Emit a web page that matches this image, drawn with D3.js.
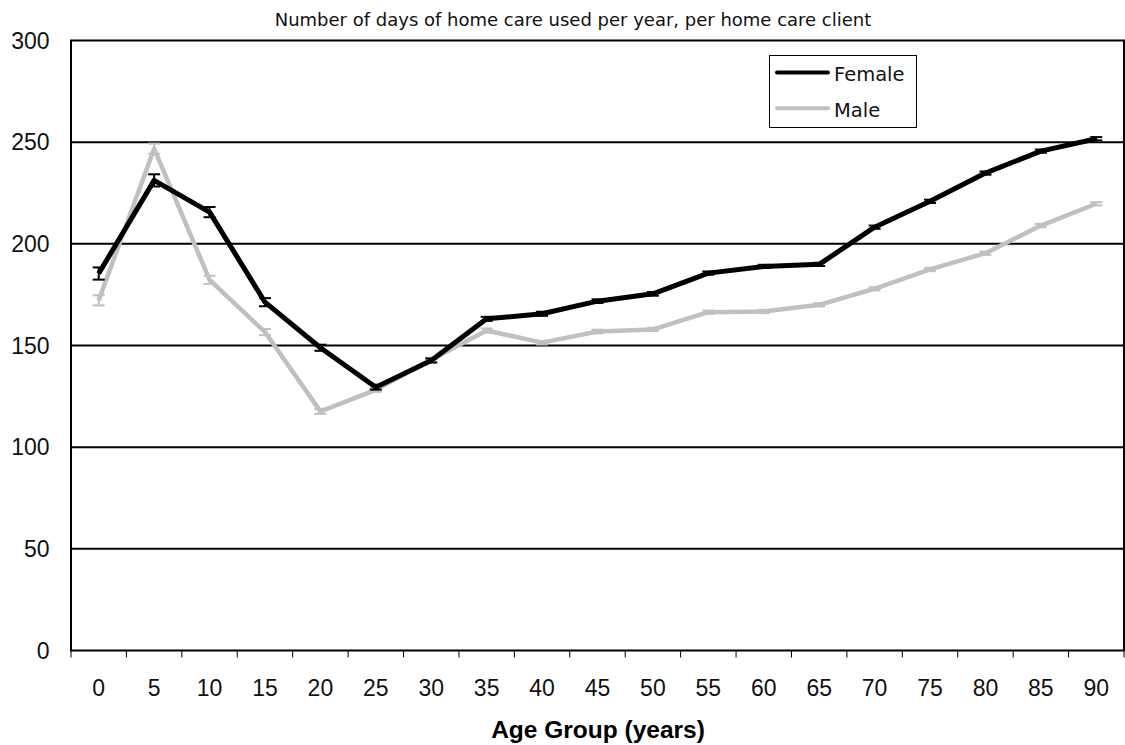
<!DOCTYPE html>
<html><head><meta charset="utf-8">
<script src="https://cdn.jsdelivr.net/npm/d3@7"></script>
<style>body{margin:0;background:#fff;} text{font-family:"Liberation Sans",Arial,sans-serif;}</style>
</head><body>
<svg id="c" width="1125" height="745"></svg>
<script>
const categories = ["0","5","10","15","20","25","30","35","40","45","50","55","60","65","70","75","80","85","90"];
const female = [185.4,231.2,215.6,171.3,148.9,129.5,142.6,163.1,165.6,171.8,175.4,185.6,188.9,189.9,208.2,220.9,234.8,245.6,251.7];
const femaleErr = [3,3,2.5,2,1.5,1.2,1,1,1,0.9,0.9,0.8,0.8,0.8,0.8,0.8,0.8,0.8,0.8];
const male = [172.2,246.8,182.3,156.6,117.6,128.2,143,157.4,151.4,156.9,157.9,166.4,166.7,170.0,177.9,187.4,195.4,209,219.7];
const maleErr = [2.5,2.5,2,1.5,1.2,1,1,1,0.9,0.9,0.8,0.8,0.8,0.8,0.8,0.8,0.8,0.8,0.8];
const yTicks = [0,50,100,150,200,250,300];
const title = "Number of days of home care used per year, per home care client";
const xTitle = "Age Group (years)";

const svg = d3.select("#c");
const L=71, R=1124, T=40.5, B=650.5;
const x = d3.scaleBand().domain(categories).range([L,R]).padding(0);
const y = d3.scaleLinear().domain([0,300]).range([B,T]);
const cx = d => x(d)+x.bandwidth()/2;

// gridlines
svg.append("g").selectAll("line").data(yTicks.filter(v=>v>0&&v<300)).join("line")
  .attr("x1",L).attr("x2",R).attr("y1",d=>y(d)).attr("y2",d=>y(d))
  .attr("stroke","#000").attr("stroke-width",2);
// frame
svg.append("rect").attr("x",L).attr("y",T).attr("width",R-L).attr("height",B-T)
  .attr("fill","none").attr("stroke","#000").attr("stroke-width",2);
// x ticks at band boundaries
const bounds = categories.map(c=>x(c)).concat([R]);
svg.append("g").selectAll("line").data(bounds).join("line")
  .attr("x1",d=>d).attr("x2",d=>d).attr("y1",B).attr("y2",B+7)
  .attr("stroke","#000").attr("stroke-width",1);
// x labels
svg.append("g").selectAll("text").data(categories).join("text")
  .attr("x",d=>cx(d)).attr("y",696).attr("text-anchor","middle")
  .attr("font-size",23).attr("fill","#111").text(d=>d);
// y labels
svg.append("g").selectAll("text").data(yTicks).join("text")
  .attr("x",49.5).attr("y",d=>y(d)+8).attr("text-anchor","end")
  .attr("font-size",23).attr("fill","#111").text(d=>d);
// titles
svg.append("text").attr("x",573).attr("y",26).attr("text-anchor","middle")
  .attr("font-size",18).attr("fill","#111").style("font-family","'DejaVu Sans',sans-serif").text(title);
svg.append("text").attr("x",598).attr("y",738).attr("text-anchor","middle")
  .attr("font-size",24.5).attr("font-weight","bold").text(xTitle);

function series(vals, errs, color, w){
  const g = svg.append("g");
  const line = d3.line().x((d,i)=>cx(categories[i])).y(d=>y(d));
  g.append("path").datum(vals).attr("d",line).attr("fill","none")
    .attr("stroke",color).attr("stroke-width",w).attr("stroke-linejoin","round");
  const eb = g.selectAll("g.eb").data(vals).join("g");
  eb.append("line").attr("x1",(d,i)=>cx(categories[i])).attr("x2",(d,i)=>cx(categories[i]))
    .attr("y1",(d,i)=>y(d+errs[i])).attr("y2",(d,i)=>y(d-errs[i])).attr("stroke",color).attr("stroke-width",2);
  [1,-1].forEach(s=>{
    eb.append("line").attr("x1",(d,i)=>cx(categories[i])-6).attr("x2",(d,i)=>cx(categories[i])+6)
      .attr("y1",(d,i)=>y(d+s*errs[i])).attr("y2",(d,i)=>y(d+s*errs[i])).attr("stroke",color).attr("stroke-width",2);
  });
}
series(male, maleErr, "#c0c0c0", 4.5);
series(female, femaleErr, "#000", 5);

// legend
const lg = svg.append("g");
lg.append("rect").attr("x",769.5).attr("y",55.5).attr("width",147).attr("height",72)
  .attr("fill","#fff").attr("stroke","#000").attr("stroke-width",1);
[["Female","#000",72.5,80.7],["Male","#c0c0c0",108.3,117.3]].forEach(([t,c,yy,by])=>{
  lg.append("line").attr("x1",777).attr("x2",828).attr("y1",yy).attr("y2",yy).attr("stroke",c).attr("stroke-width",4).attr("stroke-linecap","round");
  lg.append("text").attr("x",834).attr("y",by).attr("font-size",19.5).attr("fill","#111")
    .style("font-family","'DejaVu Sans',sans-serif").text(t);
});
</script>
</body></html>
